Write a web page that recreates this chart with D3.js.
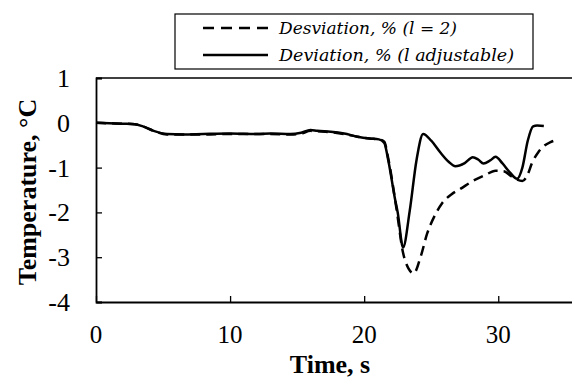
<!DOCTYPE html>
<html>
<head>
<meta charset="utf-8">
<script src="https://cdn.jsdelivr.net/npm/d3@7"></script>
<style>
  body { margin: 0; background: #fff; }
  svg { display: block; }
</style>
</head>
<body>
<div id="container"></div>
<script>
const width = 572;
const height = 378;

// solid line: deviation with adjustable l
const timeSolid = [0, 1, 2, 2.9, 3.5, 4.3, 5.3, 6.5, 8, 10, 12, 13, 14.5, 15.3, 16, 16.5, 17.5, 18.5, 19.5, 20.4, 21.1, 21.5, 21.8, 22.3, 22.5, 22.9, 23.4, 23.9, 24.4, 25, 25.7, 26.3, 26.8, 27.5, 28.1, 28.5, 28.9, 29.4, 29.8, 30.3, 30.9, 31.4, 31.8, 32.2, 32.6, 32.9, 33.4];
const tempSolid = [0, -0.01, -0.02, -0.03, -0.08, -0.18, -0.25, -0.26, -0.25, -0.24, -0.25, -0.24, -0.25, -0.22, -0.16, -0.18, -0.2, -0.24, -0.31, -0.35, -0.37, -0.45, -0.84, -1.7, -2.0, -2.78, -1.96, -0.84, -0.25, -0.4, -0.67, -0.87, -0.97, -0.9, -0.77, -0.82, -0.91, -0.84, -0.76, -0.9, -1.12, -1.25, -1.0, -0.4, -0.08, -0.06, -0.07];

// dashed line: deviation with l = 2
const timeDashed = [0, 1, 2, 2.9, 3.5, 4.3, 5.3, 6.5, 8, 10, 12, 13, 14.5, 15.3, 16, 16.5, 17.5, 18.5, 19.5, 20.4, 21.1, 21.5, 21.8, 22.4, 22.9, 23.3, 23.7, 24.2, 24.7, 25.3, 25.8, 26.5, 27.2, 28.1, 29, 29.8, 30.4, 31, 31.4, 31.8, 32.2, 32.5, 33, 33.4, 33.9, 34.4];
const tempDashed = [0, -0.01, -0.02, -0.03, -0.08, -0.18, -0.26, -0.26, -0.26, -0.25, -0.25, -0.25, -0.26, -0.24, -0.18, -0.19, -0.21, -0.25, -0.31, -0.35, -0.37, -0.42, -0.8, -1.9, -2.9, -3.25, -3.36, -3.0, -2.47, -2.05, -1.8, -1.6, -1.47, -1.3, -1.17, -1.07, -1.08, -1.2, -1.27, -1.3, -1.15, -0.91, -0.65, -0.52, -0.43, -0.38];

const xTicks = [0, 10, 20, 30];
const yTicks = [1, 0, -1, -2, -3, -4];

const legendLabels = ["Desviation, % (l = 2)", "Deviation, % (l adjustable)"];

const plotLeft = 96, plotTop = 78, plotBottom = 302;

const svg = d3.select("#container")
  .append("svg")
  .attr("width", width)
  .attr("height", height);

const x = d3.scaleLinear().domain([0, 35.5]).range([plotLeft, width]);
const y = d3.scaleLinear().domain([-4, 1]).range([plotBottom, plotTop]);

// plot frame (top line, the right side is cut off)
svg.append("line")
  .attr("x1", plotLeft).attr("x2", width)
  .attr("y1", plotTop).attr("y2", plotTop)
  .attr("stroke", "#000").attr("stroke-width", 1.5);

// y axis, ticks pointing inward
const yAxis = svg.append("g")
  .attr("transform", `translate(${plotLeft},0)`)
  .call(d3.axisRight(y).tickValues(yTicks).tickSize(6).tickFormat(""));
yAxis.select(".domain").attr("stroke-width", 1.8);
yAxis.selectAll(".tick line").attr("stroke-width", 1.3);

svg.selectAll(".ylab")
  .data(yTicks)
  .enter()
  .append("text")
  .attr("x", 70)
  .attr("y", d => y(d) + 9)
  .attr("text-anchor", "end")
  .style("font-family", "'Liberation Serif', 'Times New Roman', serif")
  .style("font-size", "26px")
  .text(d => d);

// x axis, ticks pointing up
const xAxis = svg.append("g")
  .attr("transform", `translate(0,${plotBottom})`)
  .call(d3.axisTop(x).tickValues(xTicks).tickSize(6).tickFormat("").tickSizeOuter(0));
xAxis.select(".domain").attr("stroke-width", 1.8);
xAxis.selectAll(".tick line").attr("stroke-width", 1.3);

svg.selectAll(".xlab")
  .data(xTicks)
  .enter()
  .append("text")
  .attr("x", d => x(d))
  .attr("y", 343)
  .attr("text-anchor", "middle")
  .style("font-family", "'Liberation Serif', 'Times New Roman', serif")
  .style("font-size", "25px")
  .text(d => d);

svg.append("text")
  .attr("x", 330)
  .attr("y", 373)
  .attr("text-anchor", "middle")
  .style("font-family", "'Liberation Serif', 'Times New Roman', serif")
  .style("font-size", "26px")
  .style("font-weight", "bold")
  .text("Time, s");

svg.append("text")
  .attr("transform", "translate(36,192) rotate(-90)")
  .attr("text-anchor", "middle")
  .style("font-family", "'Liberation Serif', 'Times New Roman', serif")
  .style("font-size", "26px")
  .style("font-weight", "bold")
  .text("Temperature, °C");

// lines
const line = d3.line()
  .x(d => x(d[0]))
  .y(d => y(d[1]))
  .curve(d3.curveMonotoneX);

svg.append("path")
  .datum(d3.zip(timeDashed, tempDashed))
  .attr("d", line)
  .attr("fill", "none")
  .attr("stroke", "#000")
  .attr("stroke-width", 2.5)
  .attr("stroke-dasharray", "10,6");

svg.append("path")
  .datum(d3.zip(timeSolid, tempSolid))
  .attr("d", line)
  .attr("fill", "none")
  .attr("stroke", "#000")
  .attr("stroke-width", 2.5);

// legend
const legend = svg.append("g");
legend.append("rect")
  .attr("x", 175).attr("y", 14)
  .attr("width", 358).attr("height", 55)
  .attr("fill", "#fff")
  .attr("stroke", "#000")
  .attr("stroke-width", 1.2);

const legendY = [28, 55];
const legendWidths = [178, 235];
legend.selectAll(".lline")
  .data(legendLabels)
  .enter()
  .append("line")
  .attr("x1", 203).attr("x2", 268)
  .attr("y1", (d, i) => legendY[i]).attr("y2", (d, i) => legendY[i])
  .attr("stroke", "#000")
  .attr("stroke-width", 2.5)
  .attr("stroke-dasharray", (d, i) => i === 0 ? "11,7" : null);

legend.selectAll(".ltext")
  .data(legendLabels)
  .enter()
  .append("text")
  .attr("x", 279)
  .attr("y", (d, i) => legendY[i] + 6)
  .attr("textLength", (d, i) => legendWidths[i])
  .attr("lengthAdjust", "spacingAndGlyphs")
  .style("font-family", "'DejaVu Serif', serif")
  .style("font-style", "italic")
  .style("font-size", "16px")
  .text(d => d);
</script>
</body>
</html>
